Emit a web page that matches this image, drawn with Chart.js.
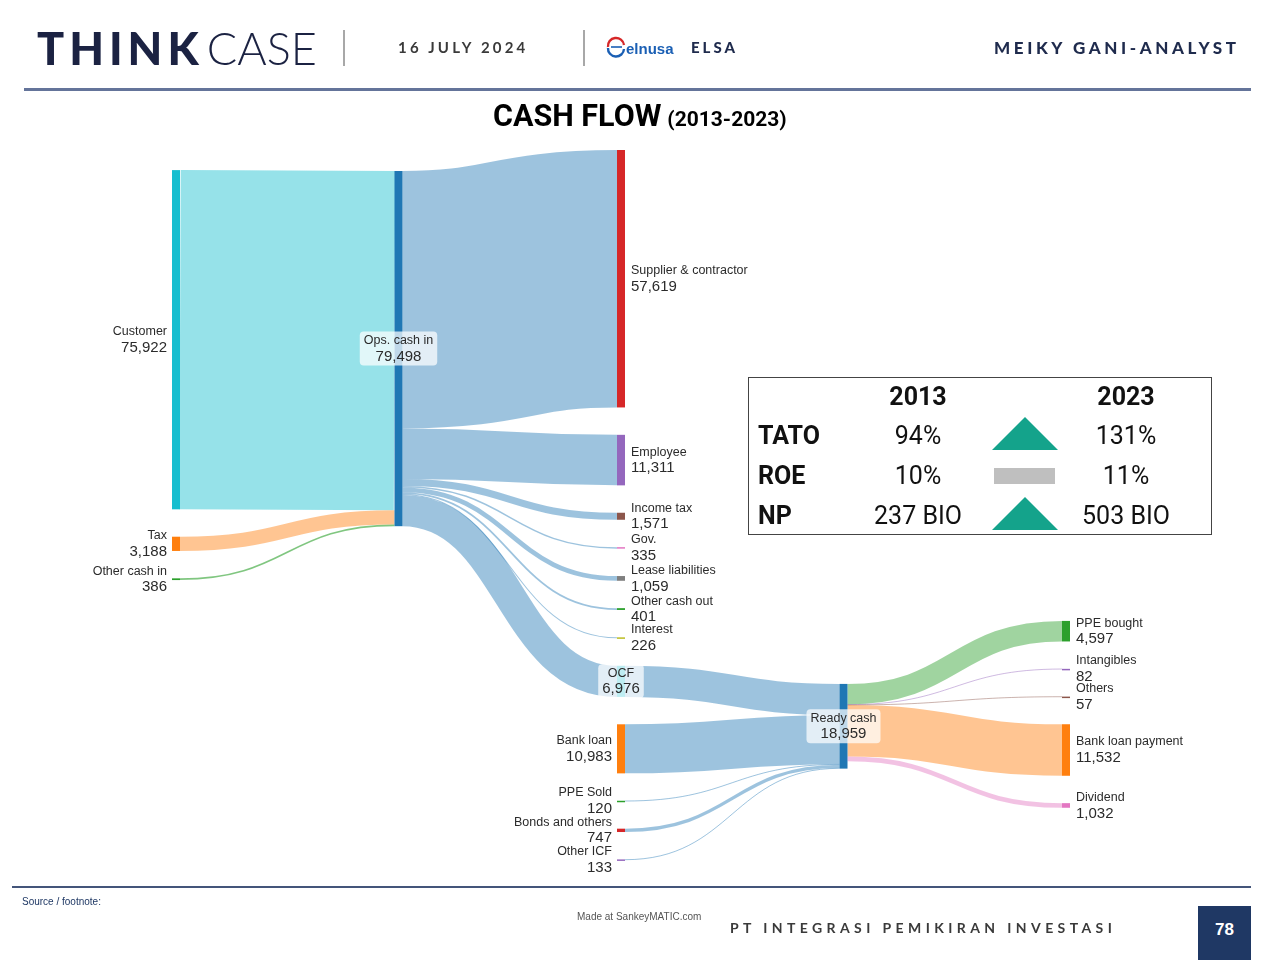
<!DOCTYPE html>
<html>
<head>
<meta charset="utf-8">
<script src="https://cdn.jsdelivr.net/npm/chart.js"></script>
<style>
  html, body { margin: 0; padding: 0; background: #fff; }
  body { width: 1280px; height: 960px; position: relative; overflow: hidden; font-family: "Liberation Sans", Arial, sans-serif; }
  #chart { position: absolute; left: 0; top: 0; }
  .abs { position: absolute; white-space: nowrap; }
  .logo { left: 37px; top: 24px; font-family: Lato, "Open Sans", sans-serif; font-size: 45px; color: #1b2242; line-height: 48px; }
  .logo b { font-weight: 900; letter-spacing: 5px; }
  .logo span { font-weight: 300; letter-spacing: 0px; margin-left: 3px; }
  .vsep { width: 2px; background: #a8a8a8; top: 30px; height: 36px; }
  .date { left: 398px; top: 38px; font-family: Lato, sans-serif; font-weight: 700; font-size: 15px; letter-spacing: 3.2px; color: #3a3a3a; }
  .elsa { left: 691px; top: 38px; font-family: Lato, sans-serif; font-weight: 900; font-size: 15px; letter-spacing: 3px; color: #1f2b4d; }
  .analyst { left: 994px; top: 37px; font-family: Lato, sans-serif; font-weight: 900; font-size: 17px; letter-spacing: 3.6px; color: #1f2b4d; }
  .elnusa { left: 626px; top: 40px; font-family: "Liberation Sans Narrow", "Liberation Sans", sans-serif; font-weight: 700; font-size: 15px; color: #1a5fb4; }
  .rule { left: 24px; width: 1227px; top: 88px; height: 3px; background: #64749a; }
  .title { left: 493px; top: 101px; line-height: 30px; font-family: Roboto, "Liberation Sans", sans-serif; font-weight: 700; color: #000; }
  .title .big { font-size: 30.5px; }
  .title .small { font-size: 21px; margin-left: 2px; }
  .tbl { left: 748px; top: 377px; width: 462px; height: 156px; border: 1.5px solid #444; }
  .t { position: absolute; font-family: Roboto, "Liberation Sans", sans-serif; font-size: 25px; color: #111; line-height: 30px; }
  .t.c { transform: translateX(-50%); }
  .t.b { font-weight: 700; }
  .tri { position: absolute; width: 0; height: 0; border-left: 33px solid transparent; border-right: 33px solid transparent; border-bottom: 33px solid #14a38b; }
  .frule { left: 12px; width: 1239px; top: 886px; height: 2px; background: #44557a; }
  .src { left: 22px; top: 896px; font-size: 10px; color: #1f3864; }
  .made { left: 577px; top: 911px; font-size: 10px; color: #555; }
  .pt { left: 730px; top: 919px; font-family: Lato, sans-serif; font-weight: 700; font-size: 14px; letter-spacing: 4.4px; color: #3a3a3a; }
  .page { left: 1198px; top: 906px; width: 53px; height: 54px; background: #1f3864; color: #fff; font-weight: 700; font-size: 17px; text-align: center; line-height: 48px; }
</style>
</head>
<body>
<canvas id="chart" width="1280" height="960"></canvas>

<div class="abs logo"><b>THINK</b><span>CASE</span></div>
<div class="abs vsep" style="left:343px"></div>
<div class="abs date">16 JULY 2024</div>
<div class="abs vsep" style="left:583px"></div>
<svg class="abs" style="left:605px;top:36px" width="22" height="22" viewBox="0 0 22 22">
  <path d="M3 11 A8 8 0 0 1 19 9" fill="none" stroke="#d62728" stroke-width="2.4"/>
  <path d="M19 13 A8 8 0 0 1 3 12" fill="none" stroke="#1a5fb4" stroke-width="2.4"/>
  <path d="M6 11 L17 11" stroke="#1a5fb4" stroke-width="1.6"/>
</svg>
<div class="abs elnusa">elnusa</div>
<div class="abs elsa">ELSA</div>
<div class="abs analyst">MEIKY GANI-ANALYST</div>
<div class="abs rule"></div>
<div class="abs title"><span class="big">CASH FLOW</span> <span class="small">(2013-2023)</span></div>

<div class="abs tbl"></div>
<div id="table"></div>

<div class="abs frule"></div>
<div class="abs src">Source / footnote:</div>
<div class="abs made">Made at SankeyMATIC.com</div>
<div class="abs pt">PT INTEGRASI PEMIKIRAN INVESTASI</div>
<div class="abs page">78</div>

<script>
// ---- sankey data ----
const nodeLabels = [
  'Customer', 'Tax', 'Other cash in',
  'Ops. cash in',
  'Supplier & contractor', 'Employee', 'Income tax', 'Gov.', 'Lease liabilities',
  'Other cash out', 'Interest', 'OCF', 'Bank loan', 'PPE Sold', 'Bonds and others', 'Other ICF',
  'Ready cash',
  'PPE bought', 'Intangibles', 'Others', 'Bank loan payment', 'Dividend'
];
const nodeColumns = [0, 0, 0, 1, 2, 2, 2, 2, 2, 2, 2, 2, 2, 2, 2, 2, 3, 4, 4, 4, 4, 4];
const nodeColors = [
  '#17becf', '#ff7f0e', '#2ca02c',
  '#1f77b4',
  '#d62728', '#9467bd', '#8c564b', '#e377c2', '#7f7f7f',
  '#2ca02c', '#bcbd22', '#17becf', '#ff7f0e', '#2ca02c', '#d62728', '#9467bd',
  '#1f77b4',
  '#2ca02c', '#9467bd', '#8c564b', '#ff7f0e', '#e377c2'
];

const flowFrom = [0, 1, 2, 3, 3, 3, 3, 3, 3, 3, 3, 11, 12, 13, 14, 15, 16, 16, 16, 16, 16];
const flowTo = [3, 3, 3, 4, 5, 6, 7, 8, 9, 10, 11, 16, 16, 16, 16, 16, 17, 18, 19, 20, 21];
const flowValues = [
  75922, 3188, 386,
  57619, 11311, 1571, 335, 1059, 401, 226, 6976,
  6976, 10983, 120, 747, 133,
  4597, 82, 57, 11532, 1032
];
const flowColors = [
  'rgba(23,190,207,0.45)', 'rgba(255,127,14,0.45)', 'rgba(44,160,44,0.6)',
  'rgba(31,119,180,0.44)', 'rgba(31,119,180,0.44)', 'rgba(31,119,180,0.44)', 'rgba(31,119,180,0.44)',
  'rgba(31,119,180,0.44)', 'rgba(31,119,180,0.44)', 'rgba(31,119,180,0.44)', 'rgba(31,119,180,0.44)',
  'rgba(31,119,180,0.44)', 'rgba(31,119,180,0.44)', 'rgba(31,119,180,0.44)', 'rgba(31,119,180,0.44)', 'rgba(31,119,180,0.44)',
  'rgba(44,160,44,0.45)', 'rgba(148,103,189,0.45)', 'rgba(140,86,75,0.45)', 'rgba(255,127,14,0.45)', 'rgba(227,119,194,0.45)'
];

// column tops and node gap, in value units
const columnTops = [4500, 4700, 0, 119500, 105400];
const nodeGap = 6130;

// ---- ratio table data ----
const tableYears = ['2013', '2023'];
const tableRows = ['TATO', 'ROE', 'NP'];
const tableStart = ['94%', '10%', '237 BIO'];
const tableEnd = ['131%', '11%', '503 BIO'];
const tableTrend = ['up', 'flat', 'up'];

// ---- layout ----
const nodeIn = nodeLabels.map(() => 0);
const nodeOut = nodeLabels.map(() => 0);
flowValues.forEach((v, i) => { nodeOut[flowFrom[i]] += v; nodeIn[flowTo[i]] += v; });
const nodeSize = nodeLabels.map((_, i) => Math.max(nodeIn[i], nodeOut[i]));

const nodeTop = [];
let yMax = 0;
columnTops.forEach((top, c) => {
  let y = top;
  nodeLabels.forEach((_, i) => {
    if (nodeColumns[i] !== c) return;
    nodeTop[i] = y;
    y += nodeSize[i] + nodeGap;
  });
  yMax = Math.max(yMax, y - nodeGap);
});

const fmt = (v) => v.toLocaleString('en-US');

const sankeyPlugin = {
  id: 'sankey',
  afterDatasetsDraw(chart) {
    const ctx = chart.ctx;
    const xs = chart.scales.x, ys = chart.scales.y;
    const half = 4;
    const px = (i) => xs.getPixelForValue(nodeColumns[i]);
    const py = (v) => ys.getPixelForValue(v);

    // flows
    const outOff = nodeLabels.map(() => 0);
    const inOff = nodeLabels.map(() => 0);
    flowValues.forEach((v, i) => {
      const s = flowFrom[i], t = flowTo[i];
      const y0 = py(nodeTop[s] + outOff[s] + v / 2);
      const y1 = py(nodeTop[t] + inOff[t] + v / 2);
      outOff[s] += v; inOff[t] += v;
      const w = Math.max(py(v) - py(0), 1);
      const x0 = px(s) + half, x1 = px(t) - half;
      const xm = (x0 + x1) / 2;
      ctx.save();
      ctx.strokeStyle = flowColors[i];
      ctx.lineWidth = w;
      ctx.beginPath();
      ctx.moveTo(x0, y0);
      ctx.bezierCurveTo(xm, y0, xm, y1, x1, y1);
      ctx.stroke();
      ctx.restore();
    });

    // nodes
    nodeLabels.forEach((_, i) => {
      const top = py(nodeTop[i]);
      const h = Math.max(py(nodeTop[i] + nodeSize[i]) - top, 1.5);
      ctx.fillStyle = nodeColors[i];
      ctx.fillRect(px(i) - half, top, half * 2, h);
    });

    // labels
    ctx.save();
    ctx.textBaseline = 'middle';
    const nameFont = '12.5px "Liberation Sans", Arial, sans-serif';
    const valFont = '15px "Liberation Sans", Arial, sans-serif';
    nodeLabels.forEach((name, i) => {
      const cy = py(nodeTop[i] + nodeSize[i] / 2);
      const val = fmt(nodeSize[i]);
      let x, align;
      if (nodeIn[i] === 0) { x = px(i) - half - 5; align = 'right'; }
      else if (nodeOut[i] === 0) { x = px(i) + half + 6; align = 'left'; }
      else {
        x = px(i); align = 'center';
        ctx.font = nameFont;
        let tw = ctx.measureText(name).width;
        ctx.font = valFont;
        tw = Math.max(tw, ctx.measureText(val).width);
        const bw = tw + 8, bh = 34;
        ctx.fillStyle = 'rgba(255,255,255,0.72)';
        ctx.beginPath();
        ctx.roundRect(x - bw / 2, cy - bh / 2, bw, bh, 4);
        ctx.fill();
      }
      ctx.textAlign = align;
      ctx.fillStyle = '#2b2b2b';
      ctx.font = nameFont;
      ctx.fillText(name, x, cy - 8);
      ctx.font = valFont;
      ctx.fillText(val, x, cy + 8);
    });
    ctx.restore();
  }
};

new Chart(document.getElementById('chart'), {
  type: 'scatter',
  data: { datasets: [] },
  options: {
    responsive: false,
    animation: false,
    devicePixelRatio: 1,
    layout: { padding: { left: 176, right: 214, top: 150, bottom: 100 } },
    plugins: { legend: { display: false }, tooltip: { enabled: false } },
    scales: {
      x: { type: 'linear', display: false, min: 0, max: 4 },
      y: { type: 'linear', display: false, min: 0, max: yMax, reverse: true }
    }
  },
  plugins: [sankeyPlugin]
});

// ---- ratio table ----
const tbl = document.getElementById('table');
function addText(txt, left, top, cls) {
  const d = document.createElement('div');
  d.className = 'abs t ' + cls;
  d.style.left = left + 'px';
  d.style.top = top + 'px';
  d.textContent = txt;
  tbl.appendChild(d);
}
addText(tableYears[0], 918, 382, 'c b');
addText(tableYears[1], 1126, 382, 'c b');
tableRows.forEach((r, i) => {
  const top = 421 + i * 40;
  addText(r, 758, top, 'b');
  addText(tableStart[i], 918, top, 'c');
  addText(tableEnd[i], 1126, top, 'c');
  const m = document.createElement('div');
  if (tableTrend[i] === 'up') {
    m.className = 'tri';
    m.style.left = '992px';
    m.style.top = (top - 4) + 'px';
  } else {
    m.style.position = 'absolute';
    m.style.left = '994px';
    m.style.top = (top + 7) + 'px';
    m.style.width = '61px';
    m.style.height = '16px';
    m.style.background = '#bfbfbf';
  }
  tbl.appendChild(m);
});
</script>
</body>
</html>
